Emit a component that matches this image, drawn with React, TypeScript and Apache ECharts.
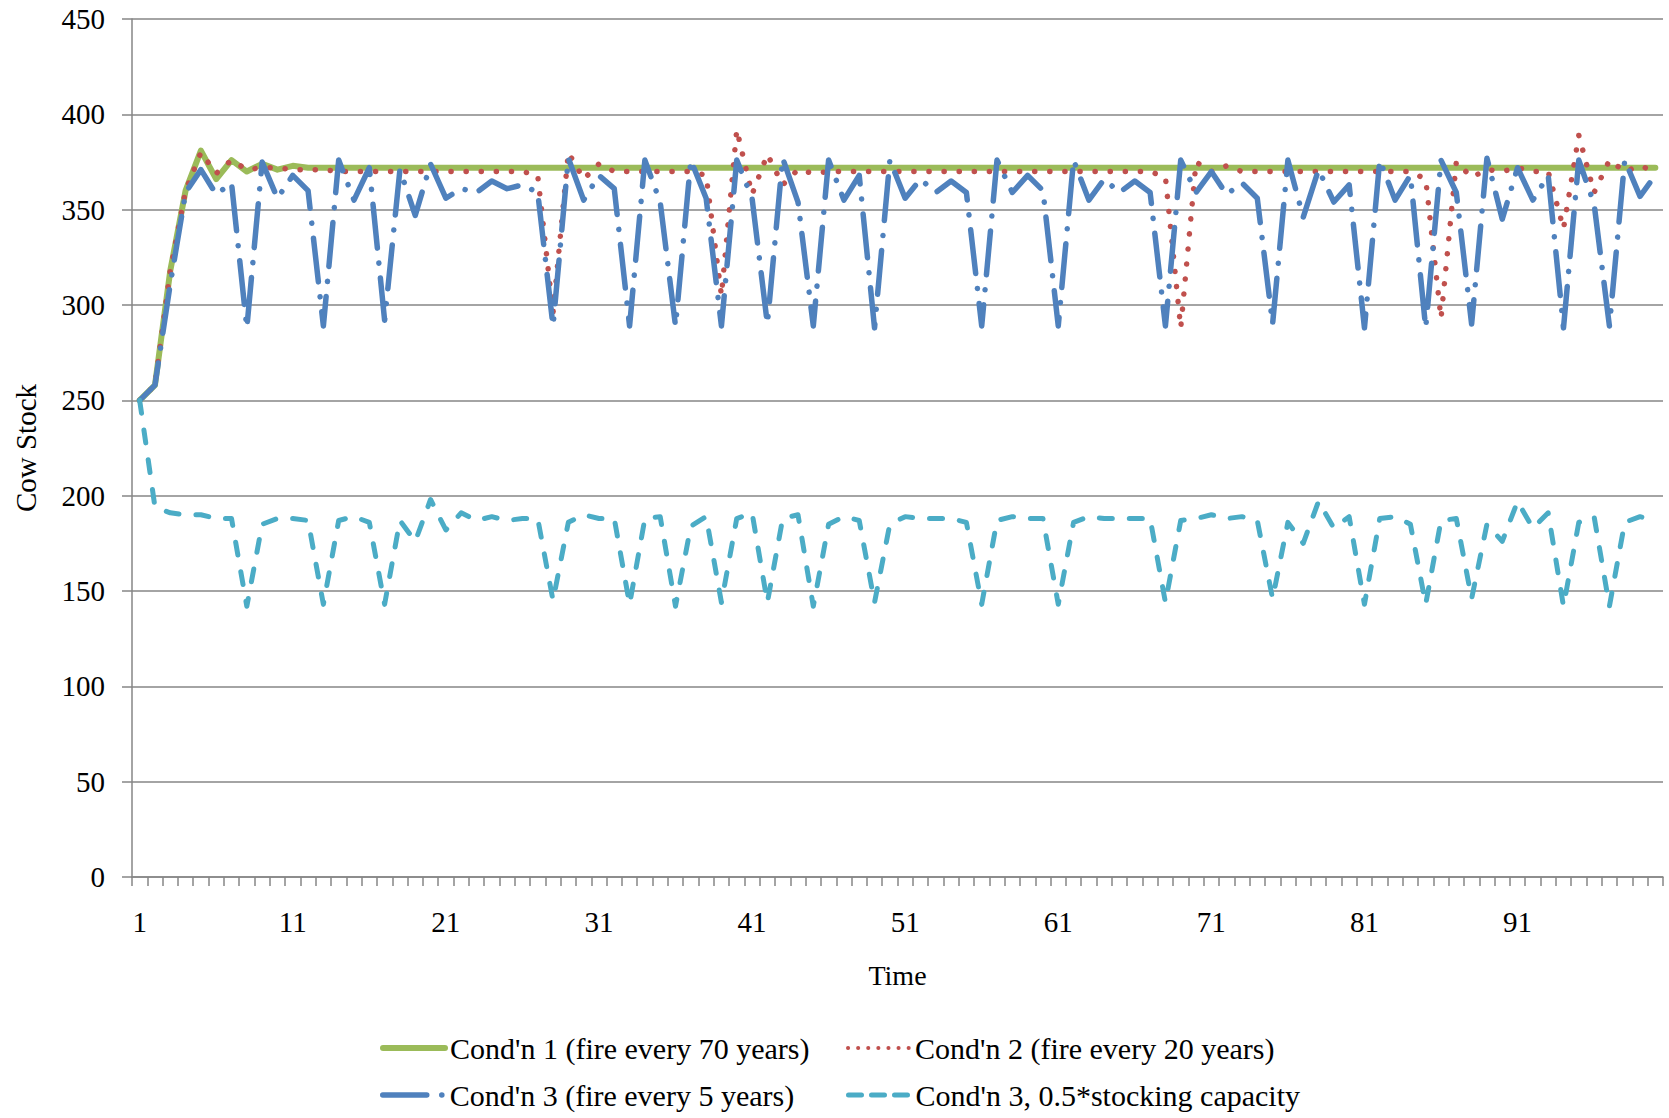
import React, { useEffect, useRef } from "react";
import * as echarts from "echarts";

const years: string[] = Array.from({ length: 100 }, (_, i) => String(i + 1));

const yTicks = [0, 50, 100, 150, 200, 250, 300, 350, 400, 450];

const seriesNames = [
  "Cond'n 1 (fire every 70 years)",
  "Cond'n 2 (fire every 20 years)",
  "Cond'n 3 (fire every 5 years)",
  "Cond'n 3, 0.5*stocking capacity",
];

const cond1 = [
  250, 258, 318, 360, 381, 366, 376, 370, 374, 371,
  373, 372, 372, 372, 372, 372, 372, 372, 372, 372,
  372, 372, 372, 372, 372, 372, 372, 372, 372, 372,
  372, 372, 372, 372, 372, 372, 372, 372, 372, 372,
  372, 372, 372, 372, 372, 372, 372, 372, 372, 372,
  372, 372, 372, 372, 372, 372, 372, 372, 372, 372,
  372, 372, 372, 372, 372, 372, 372, 372, 372, 372,
  372, 372, 372, 372, 372, 372, 372, 372, 372, 372,
  372, 372, 372, 372, 372, 372, 372, 372, 372, 372,
  372, 372, 372, 372, 372, 372, 372, 372, 372, 372,
];

const cond2 = [
  250, 258, 318, 360, 380, 369, 376, 371, 372, 372,
  371, 371, 371, 370, 370, 370, 370, 370, 370, 370,
  370, 370, 370, 370, 370, 370, 368, 296, 380, 366,
  374, 370, 370, 370, 370, 370, 370, 368, 305, 392,
  358, 379, 363, 371, 369, 370, 370, 370, 370, 370,
  370, 370, 370, 370, 370, 370, 370, 370, 370, 370,
  370, 370, 370, 370, 370, 370, 370, 367, 288, 375,
  370, 373, 370, 370, 370, 370, 370, 370, 370, 370,
  370, 370, 370, 370, 366, 293, 375, 367, 371, 370,
  372, 370, 370, 340, 389, 359, 376, 370, 373, 370,
];

const cond3 = [
  250, 258, 311, 359, 371, 358, 364, 288, 375, 356,
  368, 360, 289, 376, 355, 372, 292, 371, 347, 374,
  356, 361, 359, 365, 361, 363, 359, 289, 377, 355,
  368, 361, 289, 376, 354, 289, 376, 356, 289, 376,
  356, 290, 377, 354, 289, 376, 355, 368, 288, 376,
  356, 366, 359, 365, 359, 289, 376, 359, 368, 360,
  289, 376, 355, 366, 359, 365, 359, 289, 376, 359,
  370, 358, 364, 356, 290, 376, 346, 371, 354, 363,
  288, 376, 355, 368, 288, 376, 359, 290, 377, 345,
  372, 355, 368, 288, 376, 353, 289, 376, 357, 368,
];

const cond3Half = [
  250, 194, 191, 190, 190, 188, 188, 142, 185, 188,
  188, 187, 143, 187, 189, 186, 143, 187, 176, 198,
  182, 191, 187, 189, 187, 188, 188, 145, 186, 190,
  188, 188, 143, 188, 189, 142, 184, 189, 144, 188,
  191, 144, 188, 190, 142, 185, 189, 187, 144, 185,
  189, 188, 188, 188, 186, 143, 187, 189, 188, 188,
  143, 186, 189, 188, 188, 188, 188, 144, 187, 188,
  190, 188, 189, 187, 146, 186, 175, 197, 183, 189,
  143, 188, 189, 185, 143, 187, 188, 146, 185, 176,
  197, 183, 191, 142, 186, 189, 142, 186, 189, 187,
];

const FONT = "Liberation Serif";
const GRID_GREY = "#868686";

const COLORS = ["#9BBB59", "#C0504D", "#4F81BD", "#4BACC6"];
const WIDTHS = [6, 5.5, 5.5, 5];
const DASHES: any[] = ["solid", [0.1, 15], [44, 15, 0.1, 15], [13, 17]];
const LEGEND_DASHES: any[] = ["solid", [0.1, 10], [44, 15, 0.1, 15], [13, 10]];

export default function App() {
  const ref = useRef<HTMLDivElement>(null);

  useEffect(() => {
    if (!ref.current) return;
    const chart = echarts.init(ref.current, undefined, { renderer: "svg" });

    const legendText = { fontFamily: FONT, fontSize: 30, color: "#000" };
    const mkLegend = (k: number, left: number, top: number) => ({
      data: [seriesNames[k]],
      left,
      top,
      itemWidth: 62,
      itemHeight: 8,
      itemGap: 0,
      padding: 0,
      textStyle: legendText,
      selectedMode: false,
      itemStyle: { opacity: 0 },
      lineStyle: {
        color: COLORS[k],
        width: k === 1 ? 4 : WIDTHS[k],
        type: LEGEND_DASHES[k],
        cap: "round",
        opacity: 1,
      },
    });

    chart.setOption({
      animation: false,
      backgroundColor: "#fff",
      grid: { left: 132, right: 6, top: 19, bottom: 241, containLabel: false },
      legend: [
        mkLegend(0, 380, 1033),
        mkLegend(1, 846, 1033),
        mkLegend(2, 380, 1080),
        mkLegend(3, 846, 1080),
      ],
      xAxis: {
        type: "category",
        data: years,
        boundaryGap: true,
        name: "Time",
        nameLocation: "middle",
        nameGap: 84,
        nameTextStyle: { fontFamily: FONT, fontSize: 28, color: "#000" },
        axisLine: { lineStyle: { color: GRID_GREY, width: 1.5 } },
        axisTick: { show: true, interval: 0, length: 9, lineStyle: { color: GRID_GREY, width: 1.5 } },
        axisLabel: { interval: 9, margin: 30, fontFamily: FONT, fontSize: 29, color: "#000" },
        splitLine: { show: false },
      },
      yAxis: {
        type: "value",
        min: yTicks[0],
        max: yTicks[yTicks.length - 1],
        interval: 50,
        name: "Cow Stock",
        nameLocation: "middle",
        nameGap: 92,
        nameTextStyle: { fontFamily: FONT, fontSize: 29, color: "#000" },
        axisLine: { show: true, lineStyle: { color: GRID_GREY, width: 1.5 } },
        axisTick: { show: true, length: 10, lineStyle: { color: GRID_GREY, width: 1.5 } },
        axisLabel: { margin: 27, fontFamily: FONT, fontSize: 29, color: "#000" },
        splitLine: { show: true, lineStyle: { color: GRID_GREY, width: 1.5 } },
      },
      series: [cond1, cond2, cond3, cond3Half].map((d, k) => ({
        name: seriesNames[k],
        type: "line",
        data: d,
        symbol: "none",
        lineStyle: { color: COLORS[k], width: WIDTHS[k], type: DASHES[k], cap: "round", join: "round" },
        itemStyle: { color: COLORS[k] },
      })),
    });

    return () => chart.dispose();
  }, []);

  return (
    <div
      ref={ref}
      style={{ position: "fixed", left: 0, top: 0, width: 1669, height: 1118, background: "#fff" }}
    />
  );
}
